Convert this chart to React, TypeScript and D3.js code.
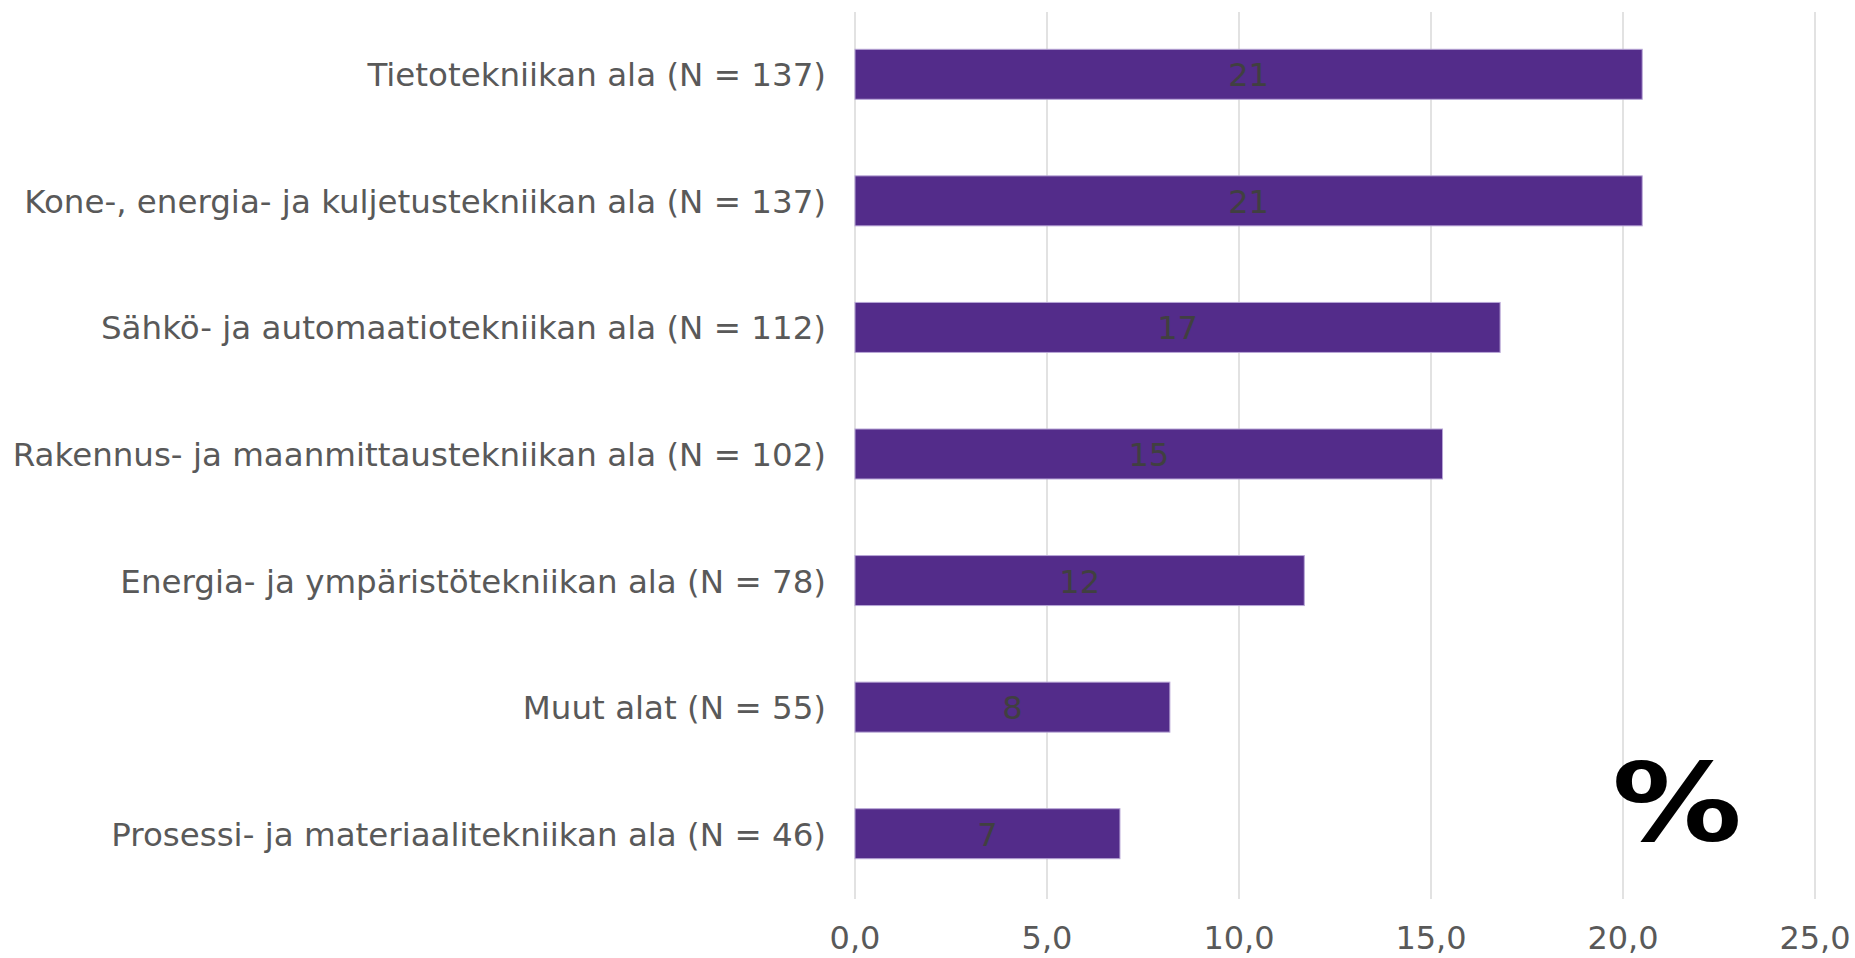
import React from "react";
import { scaleLinear, scaleBand } from "d3";

const categories = [
  "Tietotekniikan ala (N = 137)",
  "Kone-, energia- ja kuljetustekniikan ala (N = 137)",
  "Sähkö- ja automaatiotekniikan ala (N = 112)",
  "Rakennus- ja maanmittaustekniikan ala (N = 102)",
  "Energia- ja ympäristötekniikan ala (N = 78)",
  "Muut alat (N = 55)",
  "Prosessi- ja materiaalitekniikan ala (N = 46)",
];
const shares = [20.5, 20.5, 16.8, 15.3, 11.7, 8.2, 6.9];
const xTicks = [0, 5, 10, 15, 20, 25];

const W = 1855;
const H = 958;
const FONT = "'DejaVu Sans', Verdana, sans-serif";

const App = () => {
  const x = scaleLinear().domain([0, 25]).range([855, 1815]);
  const y = scaleBand<string>()
    .domain(categories)
    .range([11, 897])
    .paddingInner(0.605)
    .paddingOuter(0.3025);

  return (
    <div style={{ position: "absolute", left: 0, top: 0 }}>
      <svg width={W} height={H} style={{ display: "block" }} fontFamily={FONT}>
        <rect width={W} height={H} fill="#fff" />
        {/* gridlines */}
        {xTicks.map((t) => (
          <line key={t} x1={x(t)} x2={x(t)} y1={12} y2={899} stroke="#d9d9d9" strokeWidth={1.5} />
        ))}
        {/* bars */}
        {categories.map((c, i) => (
          <g key={c}>
            <rect
              x={x(0)}
              y={y(c)}
              width={x(shares[i]) - x(0)}
              height={y.bandwidth()}
              fill="#532c8a"
              stroke="#b7a5d6"
              strokeWidth={1}
            />
            <text
              x={(x(0) + x(shares[i])) / 2}
              y={(y(c) ?? 0) + y.bandwidth() / 2 + 3}
              textAnchor="middle"
              dominantBaseline="middle"
              fontSize={32}
              fill="#404040"
            >
              {Math.round(shares[i])}
            </text>
            <text
              x={826}
              y={(y(c) ?? 0) + y.bandwidth() / 2 + 3}
              textAnchor="end"
              dominantBaseline="middle"
              fontSize={32.5}
              fill="#595959"
            >
              {c}
            </text>
          </g>
        ))}
        {/* x tick labels */}
        {xTicks.map((t) => (
          <text key={t} x={x(t)} y={940} textAnchor="middle" dominantBaseline="middle" fontSize={32} fill="#595959">
            {t.toFixed(1).replace(".", ",")}
          </text>
        ))}
        <text
          transform="translate(1677,810) scale(1.19,1)"
          textAnchor="middle"
          dominantBaseline="middle"
          fontSize={109}
          fontWeight="bold"
          fill="#000"
        >
          %
        </text>
      </svg>
    </div>
  );
};

export default App;
